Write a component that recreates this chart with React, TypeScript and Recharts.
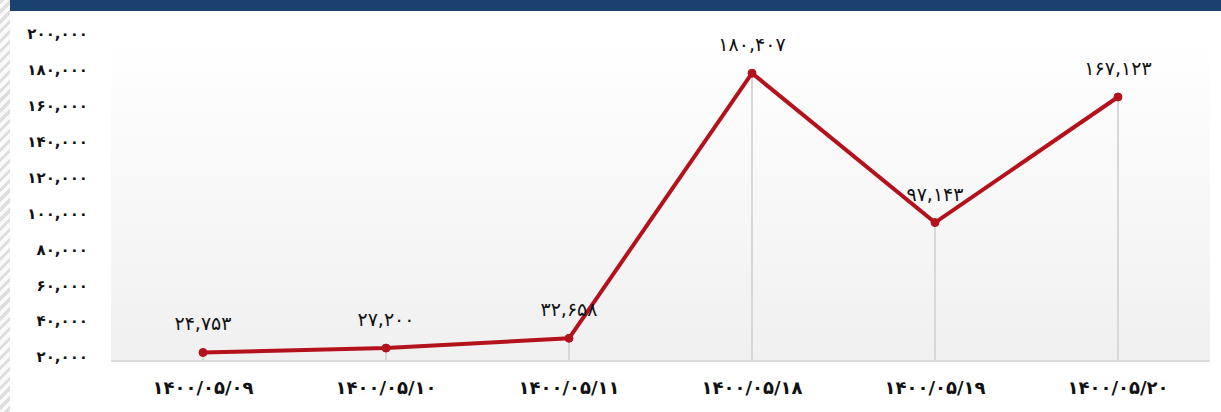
import { LineChart, Line, XAxis, YAxis, CartesianGrid, LabelList, ReferenceLine } from 'recharts';

const dates = ['۱۴۰۰/۰۵/۰۹', '۱۴۰۰/۰۵/۱۰', '۱۴۰۰/۰۵/۱۱', '۱۴۰۰/۰۵/۱۸', '۱۴۰۰/۰۵/۱۹', '۱۴۰۰/۰۵/۲۰'];
const amounts = [24753, 27200, 32658, 180407, 97143, 167123];
const yTicks = [20000, 40000, 60000, 80000, 100000, 120000, 140000, 160000, 180000, 200000];

const data = dates.map((d, i) => ({ date: d, amount: amounts[i] }));

const PERSIAN = '۰۱۲۳۴۵۶۷۸۹';
const toFa = (n: number) =>
  n.toLocaleString('en-US').replace(/[0-9]/g, (c) => PERSIAN[Number(c)]);

const FONT = '"DejaVu Sans", sans-serif';
const RED = '#b3121c';

export default function App() {
  return (
    <div style={{ position: 'absolute', left: 0, top: 0, width: 1221, height: 412, background: '#fff', overflow: 'hidden' }}>
      {/* hatched strip on the left */}
      <div style={{
        position: 'absolute', left: 0, top: 0, width: 10, height: 412,
        background: 'repeating-linear-gradient(135deg, #dedede 0px, #dedede 3px, #fafafa 3px, #fafafa 7px)'
      }} />
      {/* top header bar */}
      <div style={{ position: 'absolute', left: 10, top: 0, width: 1211, height: 11, background: '#1b4171' }} />
      <div style={{ position: 'absolute', left: 0, top: 0 }}>
        <LineChart width={1221} height={412} data={data} margin={{ top: 38, right: 11, bottom: 21, left: 0 }}>
          <defs>
            <linearGradient id="plotBg" x1="0" y1="0" x2="0" y2="1">
              <stop offset="0%" stopColor="#ffffff" />
              <stop offset="100%" stopColor="#f0f0f0" />
            </linearGradient>
          </defs>
          <CartesianGrid horizontal={false} vertical={false} fill="url(#plotBg)" />
          <XAxis
            dataKey="date"
            height={30}
            padding={{ left: 92, right: 92 }}
            tickLine={false}
            axisLine={{ stroke: '#dcdcdc', strokeWidth: 2 }}
            tickMargin={14}
            tick={{ fill: '#111', fontSize: 18, fontFamily: FONT, fontWeight: 'bold' }}
          />
          <YAxis
            width={111}
            domain={[20000, 200000]}
            ticks={yTicks}
            tickFormatter={toFa}
            tickLine={false}
            axisLine={false}
            tickMargin={17}
            tick={{ fill: '#111', fontSize: 15, fontFamily: FONT, fontWeight: 'bold', dy: -4 }}
          />
          {data.map((d) => (
            <ReferenceLine
              key={d.date}
              segment={[{ x: d.date, y: d.amount }, { x: d.date, y: 20000 }]}
              stroke="#d8d8d8"
              strokeWidth={2}
            />
          ))}
          <Line
            dataKey="amount"
            stroke={RED}
            strokeWidth={4}
            dot={{ r: 4, fill: RED, stroke: RED, strokeWidth: 1 }}
            isAnimationActive={false}
          >
            <LabelList
              dataKey="amount"
              position="top"
              offset={22}
              formatter={(v: any) => toFa(Number(v))}
              style={{ fill: '#111', fontSize: 19, fontFamily: FONT }}
            />
          </Line>
        </LineChart>
      </div>
    </div>
  );
}
